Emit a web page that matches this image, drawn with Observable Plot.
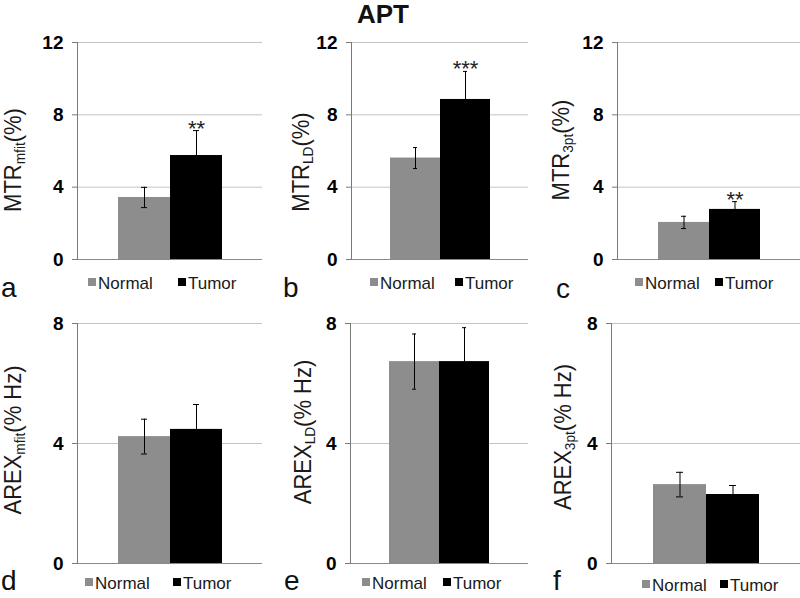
<!DOCTYPE html>
<html><head><meta charset="utf-8">
<script src="https://cdn.jsdelivr.net/npm/d3@7"></script>
<script src="https://cdn.jsdelivr.net/npm/@observablehq/plot@0.6"></script>
<style>
body{margin:0;background:#fff;}
#root{position:relative;width:800px;height:598px;overflow:hidden;font-family:"Liberation Sans",Arial,sans-serif;color:#111;background:#fff;}
.panel{position:absolute;}
.ylab{position:absolute;white-space:nowrap;font-size:22px;line-height:1;transform:translate(-50%,-50%) scaleX(1.08) rotate(-90deg);color:#1a1a1a;}
.ylab sub{font-size:0.62em;vertical-align:-0.25em;}
.legtxt{position:absolute;font-size:17px;line-height:17px;color:#1a1a1a;white-space:nowrap;}
.sq{position:absolute;width:8px;height:8px;}
.letter{position:absolute;font-size:28px;line-height:24px;color:#111;}
.title{position:absolute;font-size:26px;font-weight:bold;line-height:26px;transform:translateX(-50%);}
</style></head>
<body><div id="root"></div>
<script>
// ---- data ----
const panelLetters = ["a", "b", "c", "d", "e", "f"];
const metricNames = ["MTR", "MTR", "MTR", "AREX", "AREX", "AREX"];
const metricSubs = ["mfit", "LD", "3pt", "mfit", "LD", "3pt"];
const metricUnits = ["(%)", "(%)", "(%)", "(% Hz)", "(% Hz)", "(% Hz)"];
const groups = ["Normal", "Tumor"];
const normalMean = [3.43, 5.61, 2.05, 4.23, 6.73, 2.63];
const normalErr = [0.56, 0.58, 0.34, 0.58, 0.92, 0.41];
const tumorMean = [5.75, 8.85, 2.77, 4.47, 6.73, 2.30];
const tumorErr = [1.38, 1.55, 0.43, 0.83, 1.13, 0.30];
const significance = ["**", "***", "**", "", "", ""];
const yTicksTop = [0, 4, 8, 12];
const yTicksBottom = [0, 4, 8];
const chartTitle = "APT";

// ---- layout ----
const layout = [
  {left: 0,   top: 0,   w: 263, h: 300, ml: 77, mr: 1, mt: 42, mb: 41, lx: 15,  ly: 160, gs: 88,  bs: 178, legY: 275, letX: 1,   letY: 276},
  {left: 270, top: 0,   w: 260, h: 300, ml: 81, mr: 2, mt: 42, mb: 41, lx: 303, ly: 162, gs: 370, bs: 455, legY: 275, letX: 283, letY: 276},
  {left: 530, top: 0,   w: 270, h: 300, ml: 87, mr: 0, mt: 42, mb: 41, lx: 563, ly: 150, gs: 635, bs: 715, legY: 275, letX: 556, letY: 277},
  {left: 0,   top: 300, w: 263, h: 298, ml: 77, mr: 1, mt: 23, mb: 35, lx: 15,  ly: 440, gs: 85,  bs: 173, legY: 575, letX: 1,   letY: 569},
  {left: 270, top: 300, w: 260, h: 298, ml: 80, mr: 2, mt: 23, mb: 35, lx: 305, ly: 432, gs: 362, bs: 443, legY: 575, letX: 284, letY: 569},
  {left: 530, top: 300, w: 270, h: 298, ml: 81, mr: 0, mt: 23, mb: 35, lx: 565, ly: 437, gs: 642, bs: 720, legY: 577, letX: 553, letY: 569}
];
const barColors = ["#8d8d8d", "#000000"];

const root = document.getElementById("root");

panelLetters.forEach((letter, i) => {
  const L = layout[i];
  const data = [
    {group: groups[0], mean: normalMean[i], err: normalErr[i], sig: ""},
    {group: groups[1], mean: tumorMean[i], err: tumorErr[i], sig: significance[i]}
  ];
  const ticks = i < 3 ? yTicksTop : yTicksBottom;
  const ymax = ticks[ticks.length - 1];
  const plot = Plot.plot({
    width: L.w, height: L.h,
    marginLeft: L.ml, marginRight: L.mr, marginTop: L.mt, marginBottom: L.mb,
    style: {fontFamily: "'Liberation Sans', Arial, sans-serif", background: "transparent", overflow: "visible"},
    x: {domain: groups, paddingInner: 0, paddingOuter: 0.77, axis: null},
    y: {domain: [0, ymax], label: null},
    color: {domain: groups, range: barColors},
    marks: [
      Plot.gridY(ticks, {stroke: "#c4c4c4", strokeOpacity: 1}),
      Plot.barY(data, {x: "group", y: "mean", fill: "group"}),
      Plot.ruleY([0], {stroke: "#8a8a8a"}),
      Plot.frame({anchor: "left", stroke: "#7a7a7a"}),
      Plot.ruleX(data, {x: "group", y1: d => d.mean - d.err, y2: d => d.mean + d.err, stroke: "#000"}),
      Plot.tickY(data, {x: "group", y: d => d.mean + d.err, stroke: "#000", insetLeft: 23, insetRight: 23}),
      Plot.tickY(data, {x: "group", y: d => d.mean - d.err, stroke: "#000", insetLeft: 23, insetRight: 23}),
      Plot.text(data, {x: "group", y: d => d.mean + d.err, text: "sig", lineAnchor: "bottom", dy: 5, fontSize: 22, fill: "#222"}),
      Plot.axisY({ticks, tickSize: 5, tickPadding: 9, fontSize: 19, fontWeight: "bold", stroke: "#7a7a7a", fill: "#000", label: null})
    ]
  });
  const wrap = document.createElement("div");
  wrap.className = "panel";
  wrap.style.left = L.left + "px";
  wrap.style.top = L.top + "px";
  wrap.appendChild(plot);
  root.appendChild(wrap);

  // y label with subscript
  const yl = document.createElement("div");
  yl.className = "ylab";
  yl.style.left = L.lx + "px";
  yl.style.top = L.ly + "px";
  yl.innerHTML = metricNames[i] + "<sub>" + metricSubs[i] + "</sub>" + metricUnits[i];
  root.appendChild(yl);

  // legend
  [L.gs, L.bs].forEach((x, k) => {
    const sq = document.createElement("div");
    sq.className = "sq";
    sq.style.left = x + "px";
    sq.style.top = (L.legY + 3) + "px";
    sq.style.background = barColors[k];
    root.appendChild(sq);
    const t = document.createElement("div");
    t.className = "legtxt";
    t.style.left = (x + 10) + "px";
    t.style.top = L.legY + "px";
    t.textContent = groups[k];
    root.appendChild(t);
  });

  // panel letter
  const lt = document.createElement("div");
  lt.className = "letter";
  lt.style.left = L.letX + "px";
  lt.style.top = L.letY + "px";
  lt.textContent = letter;
  root.appendChild(lt);
});

const title = document.createElement("div");
title.className = "title";
title.style.left = "383px";
title.style.top = "1px";
title.textContent = chartTitle;
root.appendChild(title);
</script>
</body></html>
